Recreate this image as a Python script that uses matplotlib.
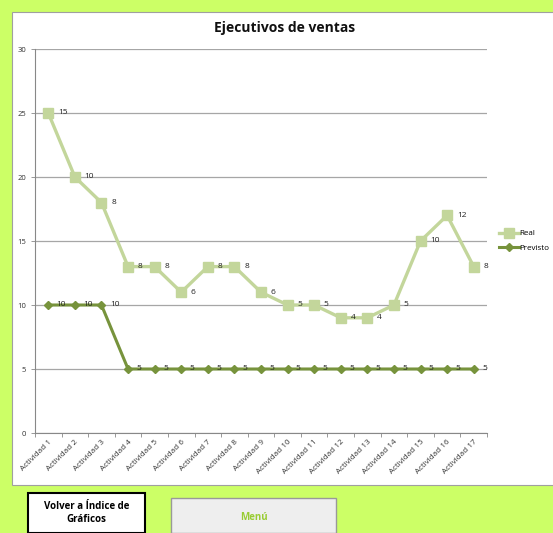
import matplotlib.pyplot as plt
import matplotlib.patches as patches
import numpy as np

plt.rcParams['font.family'] = ['Open Sans', 'DejaVu Sans']

categorias = ['Actividad %d' % i for i in range(1, 18)]
previsto = [10, 10, 10, 5, 5, 5, 5, 5, 5, 5, 5, 5, 5, 5, 5, 5, 5]
real = [15, 10, 8, 8, 8, 6, 8, 8, 6, 5, 5, 4, 4, 5, 10, 12, 8]

W, H = 553, 533
fig = plt.figure(figsize=(W / 100, H / 100), dpi=100)
fig.patch.set_facecolor('#CCFF66')

def box(x0, y0, x1, y1):
    # pixel coords (top-left origin) -> figure fraction
    return [x0 / W, 1 - y1 / H, (x1 - x0) / W, (y1 - y0) / H]

# white chart panel
b = box(12, 12, 556, 485)
fig.patches.append(patches.Rectangle((b[0], b[1]), b[2], b[3], transform=fig.transFigure,
                                     facecolor='white', edgecolor='#A0A0A0', lw=0.8, zorder=-5))

ax = fig.add_axes(box(35, 49, 487, 433))
ax.set_zorder(2)
ax.patch.set_alpha(0)
x = np.arange(len(categorias))
acumulado = np.array(previsto) + np.array(real)  # stacked line chart

ax.plot(x, acumulado, color='#C3D69B', lw=2.4, marker='s', ms=7.5, label='Real', zorder=3)
ax.plot(x, previsto, color='#77933C', lw=2.2, marker='D', ms=4.5, label='Previsto', zorder=4)

for xi, yi, v in zip(x, acumulado, real):
    ax.annotate(str(v), (xi, yi), xytext=(7, 0), textcoords='offset points', zorder=6,
                va='center', ha='left', fontsize=6, color='#222222')
for xi, yi, v in zip(x, previsto, previsto):
    ax.annotate(str(v), (xi, yi), xytext=(6, 0), textcoords='offset points', zorder=6,
                va='center', ha='left', fontsize=6, color='#222222')

ax.set_xlim(-0.5, len(categorias) - 0.5)
ax.set_ylim(0, 30)
ax.set_yticks(range(0, 31, 5))
ax.tick_params(axis='y', labelsize=5.5, colors='#333333', length=3, width=0.6)
ax.set_xticks(x)
ax.set_xticklabels(categorias, rotation=45, ha='right', rotation_mode='anchor',
                   fontsize=5.8, color='#333333')
ax.set_xticks(np.arange(-0.5, len(categorias), 1), minor=True)
ax.tick_params(axis='x', which='major', length=0, pad=4)
ax.tick_params(axis='x', which='minor', length=3, width=0.6, color='#888888')
ax.tick_params(axis='y', color='#888888')
ax.grid(axis='y', color='#A6A6A6', lw=0.9)
ax.set_axisbelow(True)
for s in ['top', 'right']:
    ax.spines[s].set_visible(False)
for s in ['left', 'bottom']:
    ax.spines[s].set_color('#888888')
    ax.spines[s].set_linewidth(0.8)

fig.text(285 / W, 1 - 28 / H, 'Ejecutivos de ventas', ha='center', va='center',
         fontsize=10, fontweight='bold', color='#111111')

leg = ax.legend(loc='center left', bbox_to_anchor=(1.01, 0.5), frameon=False,
                fontsize=5.8, handlelength=2.5, handletextpad=0.1, labelspacing=0.9)

# buttons below the chart
b1 = box(28, 493, 145, 533)
fig.patches.append(patches.Rectangle((b1[0], b1[1]), b1[2], b1[3], transform=fig.transFigure,
                                     facecolor='white', edgecolor='black', lw=1.5))
fig.text((28 + 145) / 2 / W, 1 - 513 / H, 'Volver a Índice de\nGráficos', ha='center', va='center',
         fontsize=7, fontweight='bold', linespacing=1.2)
b2 = box(171, 498, 336, 533)
fig.patches.append(patches.Rectangle((b2[0], b2[1]), b2[2], b2[3], transform=fig.transFigure,
                                     facecolor='#EEEEEE', edgecolor='#999999', lw=1.0))
fig.text((171 + 336) / 2 / W, 1 - 517 / H, 'Menú', ha='center', va='center',
         fontsize=7, fontweight='bold', color='#99CC33')

fig.savefig('out.png', dpi=100, facecolor=fig.get_facecolor())
